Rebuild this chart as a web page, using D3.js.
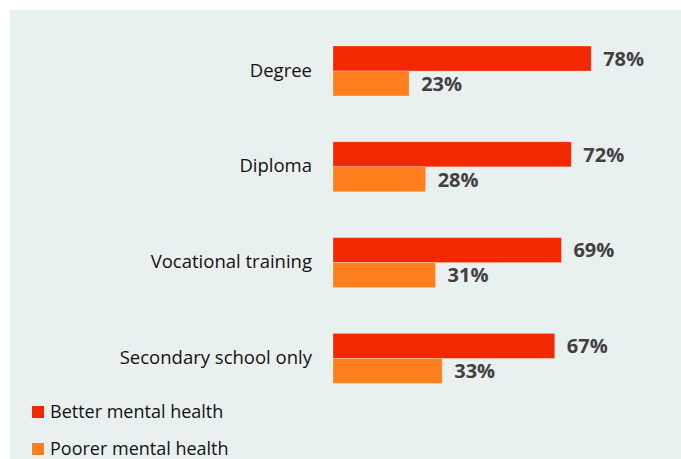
<!DOCTYPE html>
<html>
<head>
<meta charset="utf-8">
<script src="https://cdn.jsdelivr.net/npm/d3@7"></script>
<style>
  body { margin: 0; background: #fff; }
  svg { display: block; font-family: "Open Sans", "Noto Sans", sans-serif; }
</style>
</head>
<body>
<div id="chart"></div>
<script>
// data
var categories = ["Degree", "Diploma", "Vocational training", "Secondary school only"];
var seriesNames = ["Better mental health", "Poorer mental health"];
var better = [78, 72, 69, 67];
var poorer = [23, 28, 31, 33];
var colors = ["#f22800", "#ff7f1c"];

var width = 681, height = 459;

var svg = d3.select("#chart")
  .append("svg")
    .attr("width", width)
    .attr("height", height);

// panel background
svg.append("rect")
  .attr("x", 10)
  .attr("y", 10)
  .attr("width", width - 10)
  .attr("height", height - 10)
  .attr("fill", "#e9f1f0");

var x = d3.scaleLinear()
  .domain([0, 100])
  .range([333, 664]);

var y = d3.scaleBand()
  .domain(categories)
  .range([46, 383.4])
  .paddingInner(0.478)
  .paddingOuter(0);

var ySub = d3.scaleBand()
  .domain(seriesNames)
  .range([0, y.bandwidth()]);

var rows = categories.map(function(c, i) {
  return { cat: c, values: [
    { name: seriesNames[0], v: better[i], color: colors[0] },
    { name: seriesNames[1], v: poorer[i], color: colors[1] }
  ]};
});

var group = svg.append("g")
  .selectAll("g")
  .data(rows)
  .enter()
  .append("g")
    .attr("transform", function(d) { return "translate(0," + y(d.cat) + ")"; });

group.selectAll("rect")
  .data(function(d) { return d.values; })
  .enter()
  .append("rect")
    .attr("x", x(0))
    .attr("y", function(d) { return ySub(d.name); })
    .attr("width", function(d) { return x(d.v) - x(0); })
    .attr("height", ySub.bandwidth())
    .attr("fill", function(d) { return d.color; })
    .attr("stroke", "#ffffff")
    .attr("stroke-opacity", 0.35)
    .attr("stroke-width", 0.8);

// value labels
group.selectAll("text.value")
  .data(function(d) { return d.values; })
  .enter()
  .append("text")
    .attr("class", "value")
    .attr("x", function(d) { return x(d.v) + 12; })
    .attr("y", function(d) { return ySub(d.name) + ySub.bandwidth() / 2; })
    .attr("dy", "0.36em")
    .style("font-size", "20px")
    .style("font-weight", "bold")
    .style("fill", "#404040")
    .text(function(d) { return d.v + "%"; });

// category labels
group.append("text")
  .attr("x", 312)
  .attr("y", y.bandwidth() / 2)
  .attr("dy", "0.3em")
  .attr("text-anchor", "end")
  .style("font-size", "18.5px")
  .style("fill", "#111")
  .text(function(d) { return d.cat; });

// legend
var legend = svg.append("g")
  .selectAll("g")
  .data(seriesNames)
  .enter()
  .append("g")
    .attr("transform", function(d, i) { return "translate(32," + (406 + i * 37) + ")"; });

legend.append("rect")
  .attr("width", 12)
  .attr("height", 12)
  .attr("fill", function(d, i) { return colors[i]; });

legend.append("text")
  .attr("x", 18)
  .attr("y", 6)
  .attr("dy", "0.33em")
  .style("font-size", "18px")
  .style("fill", "#111")
  .text(function(d) { return d; });
</script>
</body>
</html>
